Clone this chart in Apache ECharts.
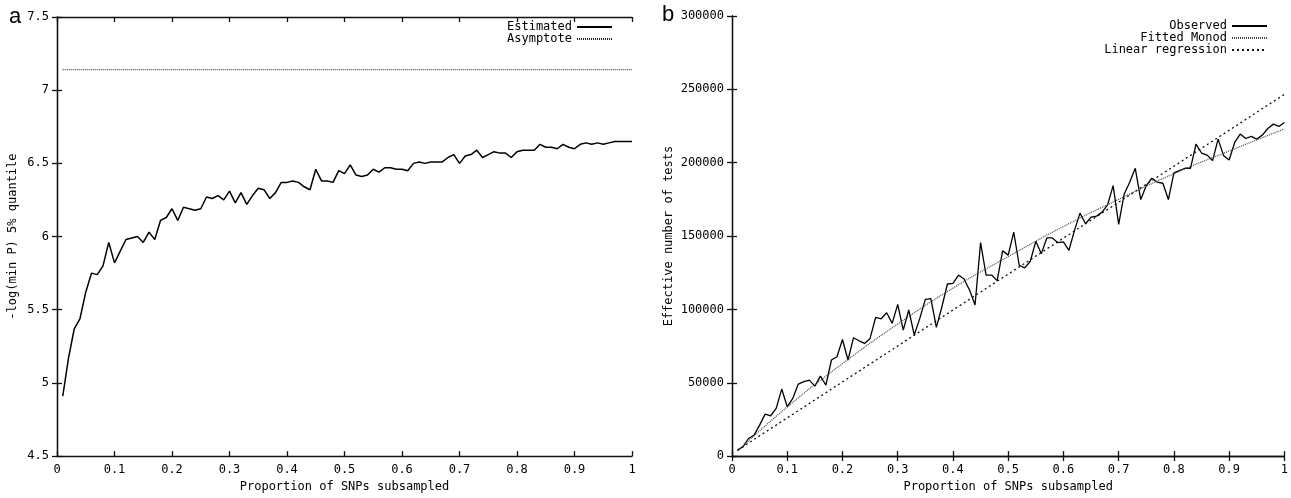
<!DOCTYPE html>
<html>
<head>
<meta charset="utf-8">
<script src="https://cdn.jsdelivr.net/npm/echarts@6/dist/echarts.min.js"></script>
<style>
  html, body { margin: 0; padding: 0; background: #fff; }
  #chart { width: 1291px; height: 498px; }
</style>
</head>
<body>
<div id="chart"></div>
<script>
// proportion of SNPs subsampled (0.01 .. 1.00)
const proportions = [
  0.01, 0.02, 0.03, 0.04, 0.05, 0.06, 0.07, 0.08, 0.09, 0.10,
  0.11, 0.12, 0.13, 0.14, 0.15, 0.16, 0.17, 0.18, 0.19, 0.20,
  0.21, 0.22, 0.23, 0.24, 0.25, 0.26, 0.27, 0.28, 0.29, 0.30,
  0.31, 0.32, 0.33, 0.34, 0.35, 0.36, 0.37, 0.38, 0.39, 0.40,
  0.41, 0.42, 0.43, 0.44, 0.45, 0.46, 0.47, 0.48, 0.49, 0.50,
  0.51, 0.52, 0.53, 0.54, 0.55, 0.56, 0.57, 0.58, 0.59, 0.60,
  0.61, 0.62, 0.63, 0.64, 0.65, 0.66, 0.67, 0.68, 0.69, 0.70,
  0.71, 0.72, 0.73, 0.74, 0.75, 0.76, 0.77, 0.78, 0.79, 0.80,
  0.81, 0.82, 0.83, 0.84, 0.85, 0.86, 0.87, 0.88, 0.89, 0.90,
  0.91, 0.92, 0.93, 0.94, 0.95, 0.96, 0.97, 0.98, 0.99, 1.00
]

// panel a: -log(min P) 5% quantile
const estimated = [
  4.91, 5.17, 5.37, 5.44, 5.62, 5.75, 5.74, 5.80, 5.96, 5.82,
  5.90, 5.98, 5.99, 6.00, 5.96, 6.03, 5.98, 6.11, 6.13, 6.19,
  6.11, 6.20, 6.19, 6.18, 6.19, 6.27, 6.26, 6.28, 6.25, 6.31,
  6.23, 6.30, 6.22, 6.28, 6.33, 6.32, 6.26, 6.30, 6.37, 6.37,
  6.38, 6.37, 6.34, 6.32, 6.46, 6.38, 6.38, 6.37, 6.45, 6.43,
  6.49, 6.42, 6.41, 6.42, 6.46, 6.44, 6.47, 6.47, 6.46, 6.46,
  6.45, 6.50, 6.51, 6.50, 6.51, 6.51, 6.51, 6.54, 6.56, 6.50,
  6.55, 6.56, 6.59, 6.54, 6.56, 6.58, 6.57, 6.57, 6.54, 6.58,
  6.59, 6.59, 6.59, 6.63, 6.61, 6.61, 6.60, 6.63, 6.61, 6.60,
  6.63, 6.64, 6.63, 6.64, 6.63, 6.64, 6.65, 6.65, 6.65, 6.65
]
const asymptoteX = [0.01, 1.0]
const asymptoteY = [7.14, 7.14]

// panel b: effective number of tests
const observed = [
  4100, 6400, 12000, 14300, 21100, 28600, 27500, 32500, 45700, 33600,
  39300, 49100, 50700, 51800, 47700, 54500, 48400, 65500, 67700, 79500,
  65500, 80700, 78600, 76800, 80200, 94500, 93600, 97700, 90500, 103400,
  85900, 99600, 82500, 93900, 106800, 107300, 87700, 101800, 117300, 117700,
  123400, 120700, 113200, 103000, 145500, 123400, 123400, 119600, 140000, 137000,
  152700, 130100, 128300, 132800, 146400, 138000, 148700, 148700, 145500, 146000,
  140300, 153900, 165600, 158400, 162900, 163600, 166300, 171300, 184400, 157900,
  178700, 186700, 196200, 174900, 184400, 189400, 186700, 186000, 174900, 193000,
  194600, 196200, 196200, 212700, 206600, 205200, 201400, 216100, 204800, 201800,
  213800, 219500, 216500, 217900, 216100, 218800, 223300, 226300, 224700, 227400
]
const monodX = [0.01, 0.1, 0.2, 0.3, 0.4, 0.5, 0.6, 0.7, 0.8, 0.9, 1.0]
const monodY = [3500, 33500, 63000, 90000, 114500, 136000, 156500, 175000, 192500, 208000, 223000]
const regressionX = [0.01, 1.0]
const regressionY = [4000, 246600]

const xTicks = { min: 0, max: 1, interval: 0.1 }
const yTicksA = { min: 4.5, max: 7.5, interval: 0.5 }
const yTicksB = { min: 0, max: 300000, interval: 50000 }

const mono = 'DejaVu Sans Mono'
const pair = (xs, ys) => xs.map((x, i) => [x, ys[i]])

function mainAxis(pos, grid, range, name, nameGap) {
  return {
    type: 'value',
    gridIndex: grid,
    position: pos,
    min: range.min,
    max: range.max,
    interval: range.interval,
    name: name,
    nameLocation: 'middle',
    nameGap: nameGap,
    nameTextStyle: { fontFamily: mono, fontSize: 12, color: '#000' },
    axisLine: { show: true, lineStyle: { color: '#111', width: 1.3 } },
    axisTick: { show: true, inside: true, length: 5, lineStyle: { color: '#111', width: 1.3 } },
    axisLabel: { color: '#000', fontFamily: mono, fontSize: 12, margin: 8, formatter: v => String(v) },
    splitLine: { show: false }
  }
}
function mirrorAxis(pos, grid, range) {
  return {
    type: 'value',
    gridIndex: grid,
    position: pos,
    min: range.min,
    max: range.max,
    interval: range.interval,
    axisLine: { show: true, lineStyle: { color: '#111', width: 1.3 } },
    axisTick: { show: true, inside: true, length: 5, lineStyle: { color: '#111', width: 1.3 } },
    axisLabel: { show: false },
    splitLine: { show: false }
  }
}
function legendBox(names, right, top) {
  return {
    data: names,
    orient: 'vertical',
    right: right,
    top: top,
    padding: 0,
    align: 'right',
    itemWidth: 35,
    itemHeight: 11.5,
    itemGap: 0,
    itemStyle: { opacity: 0 },
    textStyle: { fontFamily: mono, fontSize: 12, lineHeight: 11.5, color: '#000' }
  }
}

const chart = echarts.init(document.getElementById('chart'))
const option = {
  backgroundColor: '#fff',
  animation: false,
  grid: [
    { left: 57, top: 17, width: 575, height: 442 },
    { left: 732, top: 16, width: 554, height: 443 }
  ],
  xAxis: [
    mainAxis('bottom', 0, xTicks, 'Proportion of SNPs subsampled', 22),
    mirrorAxis('top', 0, xTicks),
    mainAxis('bottom', 1, xTicks, 'Proportion of SNPs subsampled', 22),
    mirrorAxis('top', 1, xTicks)
  ],
  yAxis: [
    mainAxis('left', 0, yTicksA, '-log(min P) 5% quantile', 38),
    mirrorAxis('right', 0, yTicksA),
    mainAxis('left', 1, yTicksB, 'Effective number of tests', 57),
    mirrorAxis('right', 1, yTicksB)
  ],
  legend: [
    legendBox(['Estimated', 'Asymptote'], 678, 21),
    legendBox(['Observed', 'Fitted Monod', 'Linear regression'], 23, 20)
  ],
  graphic: [
    { type: 'text', left: 9, top: 6, style: { text: 'a', font: '22px "Liberation Sans"', fill: '#000' } },
    { type: 'text', left: 662, top: 4, style: { text: 'b', font: '22px "Liberation Sans"', fill: '#000' } }
  ],
  series: [
    {
      name: 'Estimated',
      type: 'line',
      xAxisIndex: 0,
      yAxisIndex: 0,
      symbol: 'none',
      data: pair(proportions, estimated),
      lineStyle: { color: '#000', width: 1.5 },
      itemStyle: { color: '#000' }
    },
    {
      name: 'Asymptote',
      type: 'line',
      xAxisIndex: 0,
      yAxisIndex: 0,
      symbol: 'none',
      data: pair(asymptoteX, asymptoteY),
      lineStyle: { color: '#222', width: 1, type: [1, 1] },
      itemStyle: { color: '#222' }
    },
    {
      name: 'Observed',
      type: 'line',
      xAxisIndex: 2,
      yAxisIndex: 2,
      symbol: 'none',
      data: pair(proportions, observed),
      lineStyle: { color: '#000', width: 1.3 },
      itemStyle: { color: '#000' }
    },
    {
      name: 'Fitted Monod',
      type: 'line',
      xAxisIndex: 2,
      yAxisIndex: 2,
      symbol: 'none',
      smooth: true,
      data: pair(monodX, monodY),
      lineStyle: { color: '#444', width: 1.2, type: [1, 1] },
      itemStyle: { color: '#444' }
    },
    {
      name: 'Linear regression',
      type: 'line',
      xAxisIndex: 2,
      yAxisIndex: 2,
      symbol: 'none',
      data: pair(regressionX, regressionY),
      lineStyle: { color: '#111', width: 1.3, type: [2, 3] },
      itemStyle: { color: '#111' }
    }
  ]
}
chart.setOption(option)
</script>
</body>
</html>
